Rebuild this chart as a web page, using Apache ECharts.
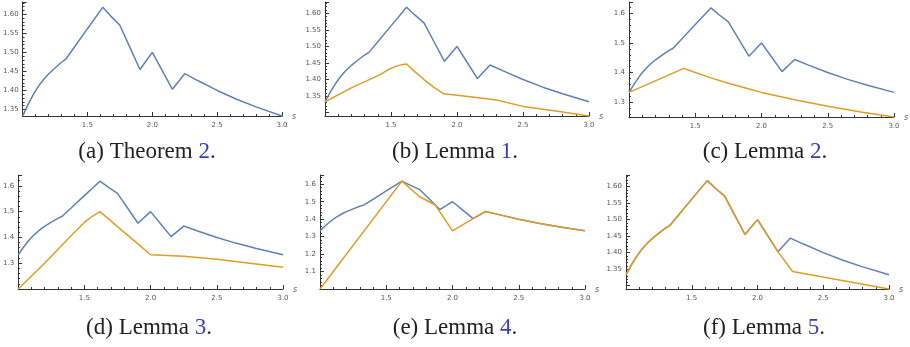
<!DOCTYPE html>
<html>
<head>
<meta charset="utf-8">
<script src="https://cdn.jsdelivr.net/npm/echarts@6/dist/echarts.min.js"></script>
<style>
  html, body { margin: 0; padding: 0; background: #fff; }
  #chart { width: 910px; height: 347px; }
</style>
</head>
<body>
<div id="chart"></div>
<script>
// Upper bound curve shared by every panel
const upperS = [1.0, 1.04, 1.08, 1.12, 1.16, 1.2, 1.25, 1.3, 1.333, 1.4, 1.5, 1.618, 1.68, 1.75, 1.83, 1.905, 2.0, 2.08, 2.155, 2.25, 2.35, 2.5, 2.65, 2.8, 3.0];
const upperV = [1.333, 1.362, 1.388, 1.41, 1.428, 1.443, 1.459, 1.474, 1.482, 1.514, 1.562, 1.618, 1.595, 1.571, 1.511, 1.455, 1.5, 1.45, 1.403, 1.444, 1.426, 1.4, 1.377, 1.357, 1.333];

// Lower curves, one per panel (b)..(f)
const lemma1S = [1.0, 1.2, 1.414, 1.47, 1.53, 1.58, 1.618, 1.68, 1.75, 1.82, 1.9, 2.1, 2.3, 2.5, 2.75, 3.0];
const lemma1V = [1.333, 1.375, 1.414, 1.428, 1.439, 1.445, 1.447, 1.424, 1.4, 1.378, 1.357, 1.348, 1.338, 1.319, 1.305, 1.29];

const lemma2S = [1.0, 1.414, 1.5, 1.618, 1.75, 1.9, 2.0, 2.25, 2.5, 2.75, 3.0];
const lemma2V = [1.333, 1.414, 1.4, 1.382, 1.364, 1.345, 1.333, 1.308, 1.286, 1.267, 1.25];

const lemma3S = [1.0, 1.2, 1.414, 1.5, 1.56, 1.618, 1.75, 1.9, 2.0, 2.25, 2.5, 2.75, 3.0];
const lemma3V = [1.2, 1.3, 1.414, 1.458, 1.482, 1.5, 1.442, 1.377, 1.333, 1.327, 1.315, 1.3, 1.284];

const lemma4S = [1.0, 1.618, 1.75, 1.87, 2.0, 2.155, 2.25, 2.35, 2.5, 2.65, 2.8, 3.0];
const lemma4V = [1.0, 1.618, 1.53, 1.481, 1.333, 1.403, 1.444, 1.426, 1.4, 1.377, 1.357, 1.333];

const lemma5S = [1.0, 1.04, 1.08, 1.12, 1.16, 1.2, 1.25, 1.3, 1.333, 1.4, 1.5, 1.618, 1.68, 1.75, 1.83, 1.905, 2.0, 2.08, 2.155, 2.267, 3.0];
const lemma5V = [1.333, 1.362, 1.388, 1.41, 1.428, 1.443, 1.459, 1.474, 1.482, 1.514, 1.562, 1.618, 1.595, 1.571, 1.511, 1.455, 1.5, 1.45, 1.403, 1.343, 1.29];

// x-axis tick labels and per-panel y ranges / label steps
const xTickLabels = ['1.5', '2.0', '2.5', '3.0'];
const yRanges = [[1.333, 1.632], [1.29, 1.634], [1.25, 1.638], [1.2, 1.642], [1.0, 1.653], [1.29, 1.635]];
const yStep = [0.05, 0.05, 0.1, 0.1, 0.1, 0.05];
const yDecimals = [2, 2, 1, 1, 1, 2];
const yLabelFrom = [1.35, 1.35, 1.3, 1.3, 1.1, 1.35];

// Captions
const captionText = ['(a) Theorem ', '(b) Lemma ', '(c) Lemma ', '(d) Lemma ', '(e) Lemma ', '(f) Lemma '];
const captionRef = ['2', '1', '2', '3', '4', '5'];

const lowerS = [null, lemma1S, lemma2S, lemma3S, lemma4S, lemma5S];
const lowerV = [null, lemma1V, lemma2V, lemma3V, lemma4V, lemma5V];

const BLUE = '#5E81B5';
const ORANGE = '#E19C24';
const AXIS = '#333';
const TICKTXT = '#555';

const panels = [
  { left: 21, top: 2, width: 261, height: 114 },
  { left: 325, top: 2, width: 264, height: 114 },
  { left: 629, top: 2, width: 265, height: 115 },
  { left: 17, top: 175, width: 266, height: 114 },
  { left: 320, top: 175, width: 265, height: 114 },
  { left: 626, top: 175, width: 263, height: 114 }
];
const captionPos = [[147, 152], [455, 152], [765, 152], [149, 328], [455, 328], [764, 328]];

const pairs = (xs, ys) => xs.map((x, i) => [x, ys[i]]);

const grid = [], xAxis = [], yAxis = [], series = [], graphic = [];
panels.forEach((p, i) => {
  grid.push({ left: p.left, top: p.top, width: p.width, height: p.height, containLabel: false });
  xAxis.push({
    type: 'value', gridIndex: i, min: 1, max: 3, interval: 0.5,
    name: 's', nameLocation: 'end', nameGap: 10,
    nameTextStyle: { fontStyle: 'italic', fontSize: 8, color: '#666', fontFamily: 'DejaVu Sans', verticalAlign: 'top', padding: [-3, 0, 0, 0] },
    axisLine: { show: true, onZero: false, lineStyle: { color: AXIS, width: 1 } },
    axisTick: { show: true, inside: true, length: 4, lineStyle: { color: AXIS } },
    minorTick: { show: true, splitNumber: 5, length: 2, lineStyle: { color: AXIS } },
    splitLine: { show: false },
    axisLabel: {
      showMinLabel: false, fontSize: 7, color: TICKTXT, margin: 6, fontFamily: 'DejaVu Sans',
      formatter: v => { const s = v.toFixed(1); return xTickLabels.indexOf(s) >= 0 ? s : ''; }
    }
  });
  yAxis.push({
    type: 'value', gridIndex: i, min: yRanges[i][0], max: yRanges[i][1],
    minInterval: yStep[i], maxInterval: yStep[i], splitNumber: 6,
    axisLine: { show: true, onZero: false, lineStyle: { color: AXIS, width: 1 } },
    axisTick: { show: true, inside: true, length: 4, lineStyle: { color: AXIS } },
    minorTick: { show: true, splitNumber: 5, length: 2, lineStyle: { color: AXIS } },
    splitLine: { show: false },
    axisLabel: {
      showMinLabel: false, showMaxLabel: false, fontSize: 7, color: TICKTXT, margin: 4, fontFamily: 'DejaVu Sans',
      formatter: v => (v < yLabelFrom[i] - 1e-6 ? '' : v.toFixed(yDecimals[i]))
    }
  });
  series.push({
    type: 'line', xAxisIndex: i, yAxisIndex: i, data: pairs(upperS, upperV),
    showSymbol: false, silent: true, animation: false,
    lineStyle: { color: BLUE, width: 1.5 }
  });
  if (lowerS[i]) {
    series.push({
      type: 'line', xAxisIndex: i, yAxisIndex: i, data: pairs(lowerS[i], lowerV[i]),
      showSymbol: false, silent: true, animation: false,
      lineStyle: { color: ORANGE, width: 1.5 }
    });
  }
  graphic.push({
    type: 'text', x: captionPos[i][0], y: captionPos[i][1],
    style: {
      text: captionText[i] + '{n|' + captionRef[i] + '}.',
      fontFamily: 'Liberation Serif', fontSize: 23, fill: '#222',
      align: 'center', verticalAlign: 'middle',
      rich: { n: { fill: '#3d3db5', fontFamily: 'Liberation Serif', fontSize: 23 } }
    }
  });
});

const chart = echarts.init(document.getElementById('chart'), null, { renderer: 'canvas' });
chart.setOption({ animation: false, grid, xAxis, yAxis, series, graphic });
</script>
</body>
</html>
